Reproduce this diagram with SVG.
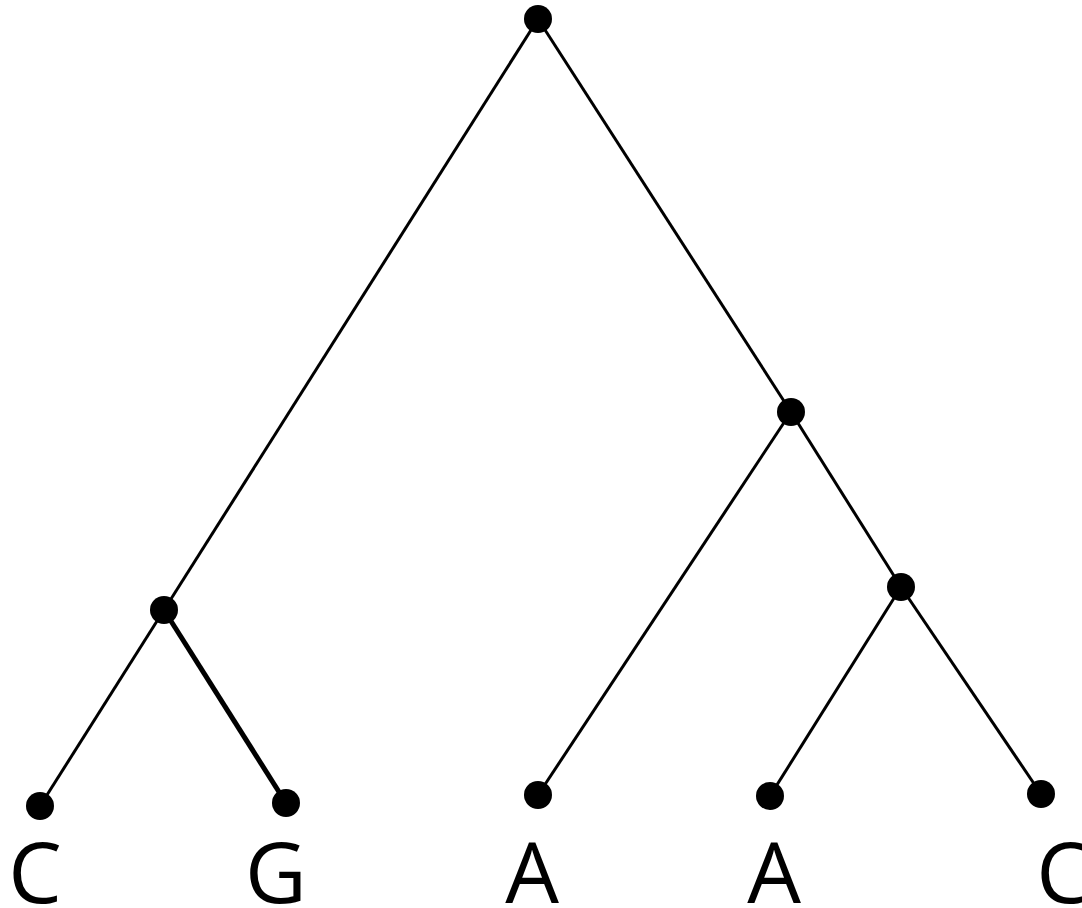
<svg xmlns="http://www.w3.org/2000/svg" width="1082" height="908" viewBox="0 0 1082 908">
<style>
.e{stroke:#000;stroke-width:3;fill:none}
.t{stroke-width:5}
.n{fill:#000}
.l{font-family:"Open Sans","Liberation Sans",sans-serif;font-size:85px;fill:#000;text-anchor:middle}
</style>
<rect width="1082" height="908" fill="#fff"/>
<g id="connectors">
<line class="e" x1="538" y1="19" x2="164" y2="610"/>
<line class="e" x1="538" y1="19" x2="791" y2="412"/>
<line class="e" x1="164" y1="610" x2="40" y2="806"/>
<line class="e t" x1="164" y1="610" x2="286" y2="803"/>
<line class="e" x1="791" y1="412" x2="538" y2="795"/>
<line class="e" x1="791" y1="412" x2="901" y2="587"/>
<line class="e" x1="901" y1="587" x2="770" y2="796"/>
<line class="e" x1="901" y1="587" x2="1041" y2="794"/>
</g>
<g id="root"><circle class="n" cx="538" cy="19" r="14"/></g>
<g id="n-left"><circle class="n" cx="164" cy="610" r="14"/></g>
<g id="n-right"><circle class="n" cx="791" cy="412" r="14"/></g>
<g id="n-rr"><circle class="n" cx="901" cy="587" r="14"/></g>
<g id="leaf-C1"><circle class="n" cx="40" cy="806" r="14"/><text class="l" x="35" y="903">C</text></g>
<g id="leaf-G"><circle class="n" cx="286" cy="803" r="14"/><text class="l" x="276" y="903">G</text></g>
<g id="leaf-A1"><circle class="n" cx="538" cy="795" r="14"/><text class="l" x="532" y="903">A</text></g>
<g id="leaf-A2"><circle class="n" cx="770" cy="796" r="14"/><text class="l" x="774" y="903">A</text></g>
<g id="leaf-C2"><circle class="n" cx="1041" cy="794" r="14"/><text class="l" x="1063" y="903">C</text></g>
</svg>
